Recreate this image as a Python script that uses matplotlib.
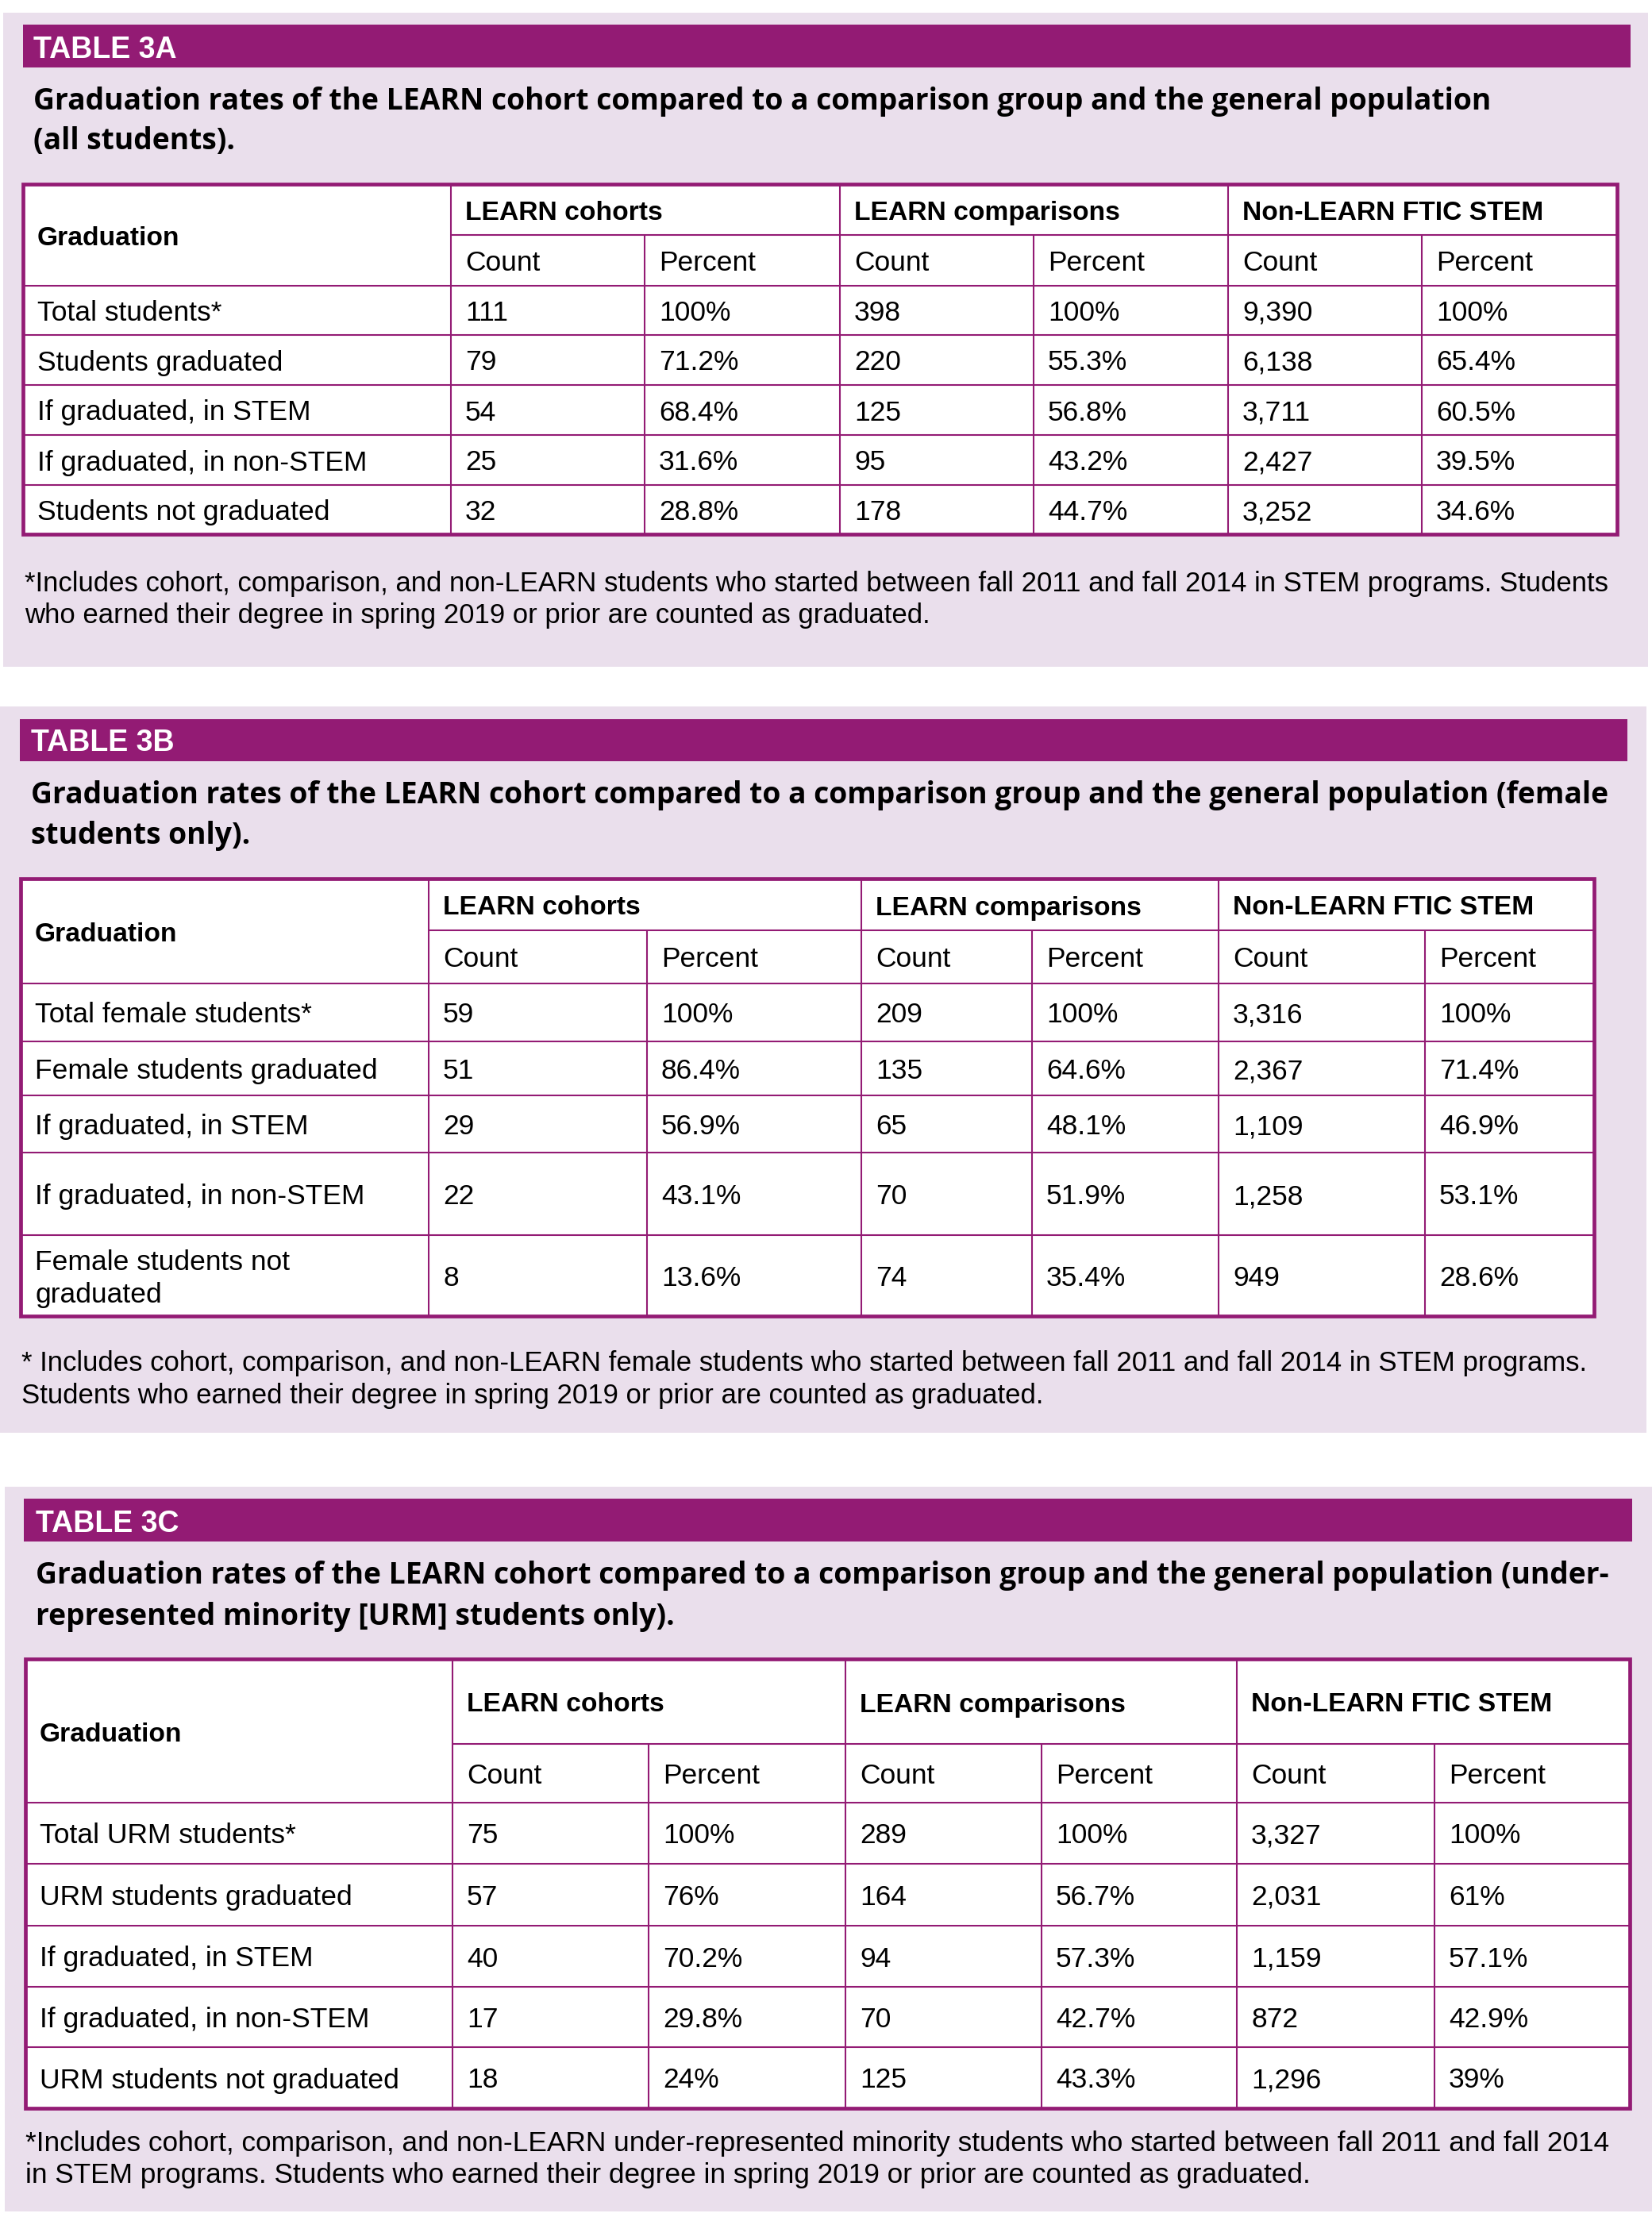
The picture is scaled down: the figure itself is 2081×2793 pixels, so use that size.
import matplotlib
matplotlib.use("Agg")
import matplotlib.pyplot as plt
from matplotlib.patches import Rectangle
from matplotlib import font_manager as fm

W, H = 2081, 2793
DPI = 100

PURPLE = '#931B74'
LAVENDER = '#EADFEC'

fonts = fm.fontManager.ttflist
names = {f.name for f in fonts}
FONT = 'Liberation Sans' if 'Liberation Sans' in names else 'DejaVu Sans'
plt.rcParams['font.family'] = [FONT, 'DejaVu Sans']

# subtitle font: a wider humanist bold if we have it
has_open_bold = any(f.name == 'Open Sans' and f.weight in (700, 'bold') for f in fonts)
SUB_FAMILY = ['Open Sans', FONT] if has_open_bold else [FONT]
SUB_SIZE = 26.8 if has_open_bold else 28

# ---- data ----
groups = ['LEARN cohorts', 'LEARN comparisons', 'Non-LEARN FTIC STEM']
sub_cols = ['Count', 'Percent']

# table 3A: all students
a_title = 'TABLE 3A'
a_subtitle = ['Graduation rates of the LEARN cohort compared to a comparison group and the general population',
              '(all students).']
a_rows = ['Total students*', 'Students graduated', 'If graduated, in STEM',
          'If graduated, in non-STEM', 'Students not graduated']
a_cohort_n = [111, 79, 54, 25, 32]
a_cohort_pct = [100, 71.2, 68.4, 31.6, 28.8]
a_comp_n = [398, 220, 125, 95, 178]
a_comp_pct = [100, 55.3, 56.8, 43.2, 44.7]
a_non_n = [9390, 6138, 3711, 2427, 3252]
a_non_pct = [100, 65.4, 60.5, 39.5, 34.6]
a_note = ['*Includes cohort, comparison, and non-LEARN students who started between fall 2011 and fall 2014 in STEM programs. Students',
          'who earned their degree in spring 2019 or prior are counted as graduated.']

# table 3B: female students
b_title = 'TABLE 3B'
b_subtitle = ['Graduation rates of the LEARN cohort compared to a comparison group and the general population (female',
              'students only).']
b_rows = ['Total female students*', 'Female students graduated', 'If graduated, in STEM',
          'If graduated, in non-STEM', 'Female students not\ngraduated']
b_cohort_n = [59, 51, 29, 22, 8]
b_cohort_pct = [100, 86.4, 56.9, 43.1, 13.6]
b_comp_n = [209, 135, 65, 70, 74]
b_comp_pct = [100, 64.6, 48.1, 51.9, 35.4]
b_non_n = [3316, 2367, 1109, 1258, 949]
b_non_pct = [100, 71.4, 46.9, 53.1, 28.6]
b_note = ['* Includes cohort, comparison, and non-LEARN female students who started between fall 2011 and fall 2014 in STEM programs.',
          'Students who earned their degree in spring 2019 or prior are counted as graduated.']

# table 3C: URM students
c_title = 'TABLE 3C'
c_subtitle = ['Graduation rates of the LEARN cohort compared to a comparison group and the general population (under-',
              'represented minority [URM] students only).']
c_rows = ['Total URM students*', 'URM students graduated', 'If graduated, in STEM',
          'If graduated, in non-STEM', 'URM students not graduated']
c_cohort_n = [75, 57, 40, 17, 18]
c_cohort_pct = [100, 76, 70.2, 29.8, 24]
c_comp_n = [289, 164, 94, 70, 125]
c_comp_pct = [100, 56.7, 57.3, 42.7, 43.3]
c_non_n = [3327, 2031, 1159, 872, 1296]
c_non_pct = [100, 61, 57.1, 42.9, 39]
c_note = ['*Includes cohort, comparison, and non-LEARN under-represented minority students who started between fall 2011 and fall 2014',
          'in STEM programs. Students who earned their degree in spring 2019 or prior are counted as graduated.']

# ---- layout (pixel coords, y down) ----
lay_a = dict(panel=(4, 2076, 16, 840), bar=(29, 2054, 31, 85), tx=42, title_y=73, sub_y=[138, 188],
             cols=[29, 568, 812, 1058, 1302, 1547, 1791, 2037],
             rows=[232, 296, 360, 422, 485, 548, 611, 673],
             note_x=31, note_y=[745, 785], note_size=25)
lay_b = dict(panel=(0, 2074, 890, 1805), bar=(25, 2050, 906, 959), tx=39, title_y=946, sub_y=[1012, 1063],
             cols=[26, 540, 815, 1085, 1300, 1535, 1795, 2008],
             rows=[1107, 1172, 1239, 1312, 1380, 1452, 1556, 1658],
             note_x=27, note_y=[1727, 1768], note_size=25)
lay_c = dict(panel=(6, 2081, 1873, 2786), bar=(30, 2056, 1888, 1942), tx=45, title_y=1930, sub_y=[1995, 2047],
             cols=[32, 570, 817, 1065, 1312, 1558, 1807, 2053],
             rows=[2090, 2197, 2271, 2348, 2426, 2503, 2579, 2656],
             note_x=32, note_y=[2710, 2750], note_size=25.4)

BODY = 25.5      # regular cell text
HEAD = 24.2      # bold header text
PAD = 18
CAP2 = 13


def fmt_cols(*pairs):
    out = []
    for n, p in pairs:
        out.append([f"{v:,}" for v in n])
        out.append([f"{v:g}%" for v in p])
    return out


def draw_panel(ax, lay, title, subtitle, labels, columns, note):
    x0, x1, y0, y1 = lay['panel']
    ax.add_patch(Rectangle((x0, y0), x1 - x0, y1 - y0, fc=LAVENDER, ec='none', zorder=0))
    bx0, bx1, by0, by1 = lay['bar']
    ax.add_patch(Rectangle((bx0, by0), bx1 - bx0, by1 - by0, fc=PURPLE, ec='none', zorder=1))
    ax.text(lay['tx'], lay['title_y'], title, color='white', fontsize=27, fontweight='bold',
            va='baseline', ha='left', zorder=5)
    for s, y in zip(subtitle, lay['sub_y']):
        ax.text(lay['tx'], y, s, color='black', fontsize=SUB_SIZE, fontweight='bold',
                family=SUB_FAMILY, va='baseline', zorder=5)

    cols, rows = lay['cols'], lay['rows']
    ax.add_patch(Rectangle((cols[0], rows[0]), cols[-1] - cols[0], rows[-1] - rows[0],
                           fc='white', ec='none', zorder=1))
    lw = 1.5
    ax.hlines([rows[1]], cols[1], cols[-1], color=PURPLE, lw=lw, zorder=2)
    ax.hlines(rows[2:-1], cols[0], cols[-1], color=PURPLE, lw=lw, zorder=2)
    ax.vlines([cols[1], cols[3], cols[5]], rows[0], rows[-1], color=PURPLE, lw=lw, zorder=2)
    ax.vlines([cols[2], cols[4], cols[6]], rows[1], rows[-1], color=PURPLE, lw=lw, zorder=2)
    ax.add_patch(Rectangle((cols[0], rows[0]), cols[-1] - cols[0], rows[-1] - rows[0],
                           fc='none', ec=PURPLE, lw=3.4, zorder=3))

    # header
    ax.text(cols[0] + PAD, (rows[0] + rows[2]) / 2 + CAP2, 'Graduation', fontsize=HEAD,
            fontweight='bold', va='baseline', zorder=5)
    for g, name in enumerate(groups):
        ax.text(cols[1 + 2 * g] + PAD, (rows[0] + rows[1]) / 2 + CAP2, name, fontsize=HEAD,
                fontweight='bold', va='baseline', zorder=5)
        for k, sc in enumerate(sub_cols):
            ax.text(cols[1 + 2 * g + k] + PAD, (rows[1] + rows[2]) / 2 + CAP2, sc, fontsize=BODY,
                    va='baseline', zorder=5)

    # body
    for i, lab in enumerate(labels):
        yc = (rows[2 + i] + rows[3 + i]) / 2
        parts = lab.split('\n')
        for j, part in enumerate(parts):
            yb = yc + CAP2 + (j - (len(parts) - 1) / 2) * 41
            ax.text(cols[0] + PAD, yb, part, fontsize=BODY, va='baseline', zorder=5)
        for c, col in enumerate(columns):
            ax.text(cols[1 + c] + PAD, yc + CAP2, col[i], fontsize=BODY, va='baseline', zorder=5)

    for s, y in zip(note, lay['note_y']):
        ax.text(lay['note_x'], y, s, fontsize=lay['note_size'], va='baseline', zorder=5)


fig = plt.figure(figsize=(W / DPI, H / DPI), dpi=DPI)
ax = fig.add_axes([0, 0, 1, 1])
ax.set_xlim(0, W)
ax.set_ylim(H, 0)
ax.axis('off')

draw_panel(ax, lay_a, a_title, a_subtitle, a_rows,
           fmt_cols((a_cohort_n, a_cohort_pct), (a_comp_n, a_comp_pct), (a_non_n, a_non_pct)), a_note)
draw_panel(ax, lay_b, b_title, b_subtitle, b_rows,
           fmt_cols((b_cohort_n, b_cohort_pct), (b_comp_n, b_comp_pct), (b_non_n, b_non_pct)), b_note)
draw_panel(ax, lay_c, c_title, c_subtitle, c_rows,
           fmt_cols((c_cohort_n, c_cohort_pct), (c_comp_n, c_comp_pct), (c_non_n, c_non_pct)), c_note)

fig.savefig('out.png', dpi=DPI, facecolor='white')
